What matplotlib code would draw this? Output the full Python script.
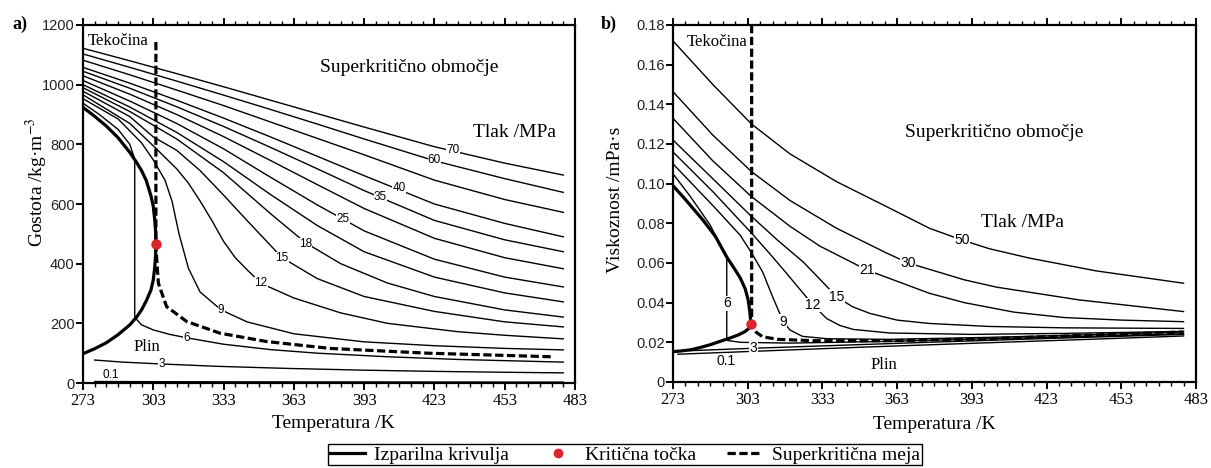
import numpy as np
import matplotlib.pyplot as plt
from matplotlib.lines import Line2D
from matplotlib.ticker import FixedLocator, FuncFormatter

plt.rcParams['font.family'] = 'Liberation Serif'
plt.rcParams['mathtext.fontset'] = 'stix'

# ---------------- a) gostota CO2 ----------------
# nasičena kapljevina / para
T_sat_liq_a = [273, 278, 283, 288, 293, 296, 298, 300, 302, 303, 303.6, 304.0, 304.13]
rho_sat_liq = [924, 894, 861, 822, 773, 738, 712, 679, 628, 593, 550, 510, 467]
T_sat_vap_a = [304.13, 304.0, 303.6, 303, 302, 300, 298, 296, 293, 288, 283, 278, 273]
rho_sat_vap = [467, 425, 385, 345, 311, 275, 245, 222, 195, 162, 135, 115, 98]

T_hi = [273, 293, 313, 333, 353, 373, 393, 423, 453, 478]
rho_70 = [1122, 1080, 1037, 993, 948, 903, 858, 792, 737, 697]
rho_60 = [1103, 1058, 1012, 965, 917, 868, 818, 745, 685, 639]
rho_50 = [1082, 1033, 982, 930, 875, 820, 765, 680, 615, 572]
rho_40 = [1058, 1005, 948, 888, 825, 760, 695, 600, 535, 490]
rho_35 = [1045, 988, 926, 860, 790, 718, 645, 545, 480, 440]
rho_30 = [1030, 968, 900, 826, 746, 665, 585, 485, 420, 383]
rho_25 = [1014, 945, 870, 785, 690, 597, 510, 415, 355, 322]
rho_21 = [1000, 925, 840, 742, 632, 528, 440, 355, 302, 272]

T_18 = [273, 293, 313, 333, 353, 368, 383, 403, 423, 453, 478]
rho_18 = [990, 910, 818, 705, 568, 470, 400, 335, 290, 245, 221]
T_15 = [273, 293, 303, 313, 323, 333, 343, 358, 373, 393, 423, 453, 478]
rho_15 = [978, 893, 825, 780, 712, 630, 545, 420, 350, 290, 240, 205, 188]
T_12 = [273, 293, 303, 313, 318, 323, 328, 333, 338, 343, 349, 363, 383, 403, 433, 453, 478]
rho_12 = [966, 870, 795, 718, 670, 610, 545, 475, 420, 380, 334, 285, 235, 200, 172, 160, 148]
T_9 = [273, 288, 298, 303, 308, 311, 314, 318, 323, 332, 343, 363, 393, 423, 453, 478]
rho_9 = [953, 885, 805, 748, 680, 610, 500, 385, 305, 245, 205, 165, 138, 125, 116, 111]
T_6 = [273, 280, 288, 293, 295.1, 295.1, 298, 303, 310, 317, 333, 353, 373, 403, 433, 478]
rho_6 = [938, 900, 850, 800, 750, 220, 195, 178, 163, 152, 130, 112, 100, 88, 79, 70]
T_3 = [278, 290, 306, 330, 360, 393, 423, 453, 478]
rho_3 = [77, 70, 64, 56, 49, 43, 39, 36, 34]
T_01 = [278, 330, 400, 478]
rho_01 = [5, 4, 3.5, 3]

# superkritična meja
T_meja_a = [304.13, 304.13, 304.6, 305.2, 308.7, 317.3, 331.5, 351.4, 378.4, 420, 473]
rho_meja = [1143, 467, 400, 334, 256, 206, 167, 139, 116, 100, 88]

lab_a = ['70', '60', '40', '35', '25', '18', '15', '12', '9', '6', '3']
lab_a_T = [431, 423, 408, 400, 384, 368, 358, 349, 332, 317.3, 306.6]
lab_a_v = [781, 748, 652, 622, 549, 465, 418, 336, 245, 152, 64]

# ---------------- b) viskoznost CO2 ----------------
T_sat_liq_b = [273, 278, 285, 290, 294.6, 298, 300, 302, 303.2, 303.9, 304.3]
mu_sat_liq = [0.0990, 0.0920, 0.0817, 0.0735, 0.0630, 0.0565, 0.0525, 0.0470, 0.0414, 0.0350, 0.0292]
T_sat_vap_b = [304.3, 303.5, 301.9, 299, 296, 292, 288, 284, 280, 276, 273]
mu_sat_vap = [0.0292, 0.0270, 0.0254, 0.0236, 0.0222, 0.0205, 0.0188, 0.0174, 0.0162, 0.0156, 0.0153]

T_m50 = [273, 289, 304.6, 320, 338.7, 358.8, 376, 389, 400, 416, 443, 478]
mu_50 = [0.172, 0.150, 0.130, 0.115, 0.101, 0.0884, 0.0775, 0.0716, 0.0672, 0.0625, 0.0560, 0.0498]
T_m30 = [273, 289, 304.6, 320, 338.7, 358.8, 367.5, 390, 403, 436, 478]
mu_30 = [0.1464, 0.1245, 0.106, 0.0915, 0.0775, 0.0650, 0.0600, 0.0515, 0.0478, 0.0414, 0.0355]
T_m21 = [273, 289, 304.6, 320, 332, 350.8, 376, 390, 410, 430, 453, 478]
mu_21 = [0.133, 0.1115, 0.0934, 0.0785, 0.0685, 0.0565, 0.0447, 0.0400, 0.0352, 0.0325, 0.0312, 0.0304]
T_m15 = [273, 289, 304.6, 315, 325.3, 333, 338.7, 345, 352, 363, 376, 400, 430, 478]
mu_15 = [0.122, 0.1025, 0.0834, 0.0715, 0.0605, 0.0505, 0.0430, 0.0380, 0.0346, 0.0312, 0.0295, 0.0280, 0.0273, 0.0270]
T_m12 = [273, 289, 304.6, 312, 318.6, 325.3, 329.3, 334.7, 340, 345.4, 360, 393, 430, 478]
mu_12 = [0.116, 0.0960, 0.0750, 0.0645, 0.0548, 0.0447, 0.0388, 0.0320, 0.0285, 0.0265, 0.0247, 0.0240, 0.0245, 0.0255]
T_m9 = [273, 289, 300, 304.6, 309, 313, 317.3, 320, 325, 335, 360, 400, 440, 478]
mu_9 = [0.110, 0.0890, 0.0740, 0.0650, 0.0555, 0.0430, 0.0304, 0.0262, 0.0230, 0.0218, 0.0215, 0.0225, 0.0238, 0.0252]
T_m6 = [273, 280, 288, 294.6, 294.6, 300, 320, 360, 400, 440, 478]
mu_6 = [0.105, 0.0935, 0.0790, 0.0625, 0.0210, 0.0200, 0.0196, 0.0205, 0.0218, 0.0230, 0.0243]
T_m3 = [280, 305.3, 340, 380, 420, 478]
mu_3 = [0.0158, 0.0170, 0.0185, 0.0202, 0.0218, 0.0240]
T_m01 = [275, 300, 350, 400, 440, 478]
mu_01 = [0.0140, 0.0152, 0.0176, 0.0198, 0.0215, 0.0232]

T_meja_b = [304.6, 304.6, 306.5, 309, 315, 330, 360, 400, 440, 478]
mu_meja = [0.18, 0.0292, 0.0250, 0.0228, 0.0215, 0.0208, 0.0208, 0.0218, 0.0236, 0.0252]

lab_b = ['50', '30', '21', '15', '12', '9', '6', '3']
lab_b_T = [389, 367.5, 350.8, 338.7, 329.3, 317.3, 294.6, 305.3]
lab_b_v = [0.0716, 0.0600, 0.0565, 0.0430, 0.0388, 0.0304, 0.0397, 0.0170]

# kritična točka
Tc_a, rhoc = 304.13, 467
Tc_b, muc = 304.3, 0.0292

fig = plt.figure(figsize=(12.11, 4.68), dpi=100)
ax1 = fig.add_axes([0.0685, 0.1816, 0.4063, 0.765])
ax2 = fig.add_axes([0.5557, 0.1838, 0.4319, 0.7628])

lw_iso = 1.0
lw_thick = 2.3
dash = (2.6, 1.1)
red = '#d9262b'


def oblika(ax):
    ax.set_xlim(273, 483)
    ax.xaxis.set_major_locator(FixedLocator(np.arange(273, 484, 30)))
    ax.xaxis.set_minor_locator(FixedLocator(np.arange(273, 484, 5)))
    ax.tick_params(axis='x', which='both', direction='out', top=True, bottom=True)
    ax.tick_params(axis='x', which='major', length=5, width=1.4, labelsize=12, pad=2)
    ax.tick_params(axis='x', which='minor', length=3, width=1.0)
    ax.tick_params(axis='y', which='major', direction='out', length=5, width=1.4,
                   right=False, pad=1)
    for lbl in ax.get_yticklabels():
        lbl.set_family('Liberation Sans')
        lbl.set_fontsize(10.5)
        lbl.set_color('#222222')
    for s in ax.spines.values():
        s.set_linewidth(1.6)


def napisi(ax, labels, xs, ys, size):
    for t, x, y in zip(labels, xs, ys):
        ax.text(x, y, t, family='Liberation Sans', fontsize=size, ha='center', va='center',
                zorder=6, bbox=dict(facecolor='white', edgecolor='none', pad=0.2))


# ---- a) ----
for T, r in [(T_hi, rho_70), (T_hi, rho_60), (T_hi, rho_50), (T_hi, rho_40), (T_hi, rho_35),
             (T_hi, rho_30), (T_hi, rho_25), (T_hi, rho_21), (T_18, rho_18), (T_15, rho_15),
             (T_12, rho_12), (T_9, rho_9), (T_6, rho_6), (T_3, rho_3), (T_01, rho_01)]:
    ax1.plot(T, r, color='black', lw=lw_iso, zorder=2)
ax1.plot(T_sat_liq_a, rho_sat_liq, color='black', lw=lw_thick, zorder=3)
ax1.plot(T_sat_vap_a, rho_sat_vap, color='black', lw=lw_thick, zorder=3)
ax1.plot(T_meja_a, rho_meja, color='black', lw=lw_thick, dashes=dash, zorder=3)
ax1.plot([Tc_a], [rhoc], 'o', color=red, ms=6.5, zorder=7)
napisi(ax1, lab_a, lab_a_T, lab_a_v, 8.5)
ax1.text(285, 27, '0.1', family='Liberation Sans', fontsize=8.5, ha='center', va='center')

ax1.set_ylim(0, 1200)
ax1.yaxis.set_major_locator(FixedLocator(np.arange(0, 1201, 200)))
oblika(ax1)
ax1.set_xlabel('Temperatura /K', fontsize=14)
ax1.xaxis.set_label_coords(0.508, -0.089)
ax1.set_ylabel('Gostota /kg·m$^{-3}$', fontsize=14)
ax1.yaxis.set_label_coords(-0.066, 0.56)

ax1.text(275.1, 1146, 'Tekočina', fontsize=12, ha='left', va='center')
ax1.text(412.3, 1056, 'Superkritično območje', fontsize=14, ha='center', va='center')
ax1.text(457, 841, 'Tlak /MPa', fontsize=14, ha='center', va='center')
ax1.text(300.3, 121, 'Plin', fontsize=12, ha='center', va='center')

# ---- b) ----
for T, m in [(T_m50, mu_50), (T_m30, mu_30), (T_m21, mu_21), (T_m15, mu_15), (T_m12, mu_12),
             (T_m9, mu_9), (T_m6, mu_6), (T_m3, mu_3), (T_m01, mu_01)]:
    ax2.plot(T, m, color='black', lw=lw_iso, zorder=2)
ax2.plot(T_sat_liq_b, mu_sat_liq, color='black', lw=lw_thick, zorder=3)
ax2.plot(T_sat_vap_b, mu_sat_vap, color='black', lw=lw_thick, zorder=3)
ax2.plot(T_meja_b, mu_meja, color='black', lw=lw_thick, dashes=dash, zorder=3)
ax2.plot([Tc_b], [muc], 'o', color=red, ms=6.5, zorder=7)
napisi(ax2, lab_b, lab_b_T, lab_b_v, 10)
ax2.text(294.5, 0.0108, '0.1', family='Liberation Sans', fontsize=10, ha='center', va='center')

ax2.set_ylim(0, 0.18)
ax2.yaxis.set_major_locator(FixedLocator(np.arange(0, 0.181, 0.02)))
ax2.yaxis.set_major_formatter(FuncFormatter(lambda v, p: '0' if abs(v) < 1e-9 else f'{v:.2f}'))
oblika(ax2)
ax2.set_xlabel('Temperatura /K', fontsize=14)
ax2.xaxis.set_label_coords(0.50, -0.095)
ax2.set_ylabel('Viskoznost /mPa·s', fontsize=14)
ax2.yaxis.set_label_coords(-0.094, 0.51)

ax2.text(278.6, 0.1716, 'Tekočina', fontsize=12, ha='left', va='center')
ax2.text(402.1, 0.126, 'Superkritično območje', fontsize=14, ha='center', va='center')
ax2.text(413.2, 0.0802, 'Tlak /MPa', fontsize=14, ha='center', va='center')
ax2.text(357.5, 0.0086, 'Plin', fontsize=12, ha='center', va='center')

fig.text(0.0165, 0.947, 'a)', fontsize=13, fontweight='bold', ha='center', va='center')
fig.text(0.503, 0.947, 'b)', fontsize=13, fontweight='bold', ha='center', va='center')

handles = [Line2D([], [], color='black', lw=lw_thick),
           Line2D([], [], color=red, marker='o', ls='none', ms=6),
           Line2D([], [], color='black', lw=lw_thick, dashes=dash)]
fig.legend(handles, ['Izparilna krivulja', 'Kritična točka', 'Superkritična meja'],
           loc='upper center', bbox_to_anchor=(0.516, 0.0513), ncol=3, fontsize=14,
           frameon=True, fancybox=False, edgecolor='black', framealpha=1,
           borderpad=0.1, borderaxespad=0, handlelength=1.8, handletextpad=0.5,
           columnspacing=1.6)

fig.savefig('out.png', dpi=100)
